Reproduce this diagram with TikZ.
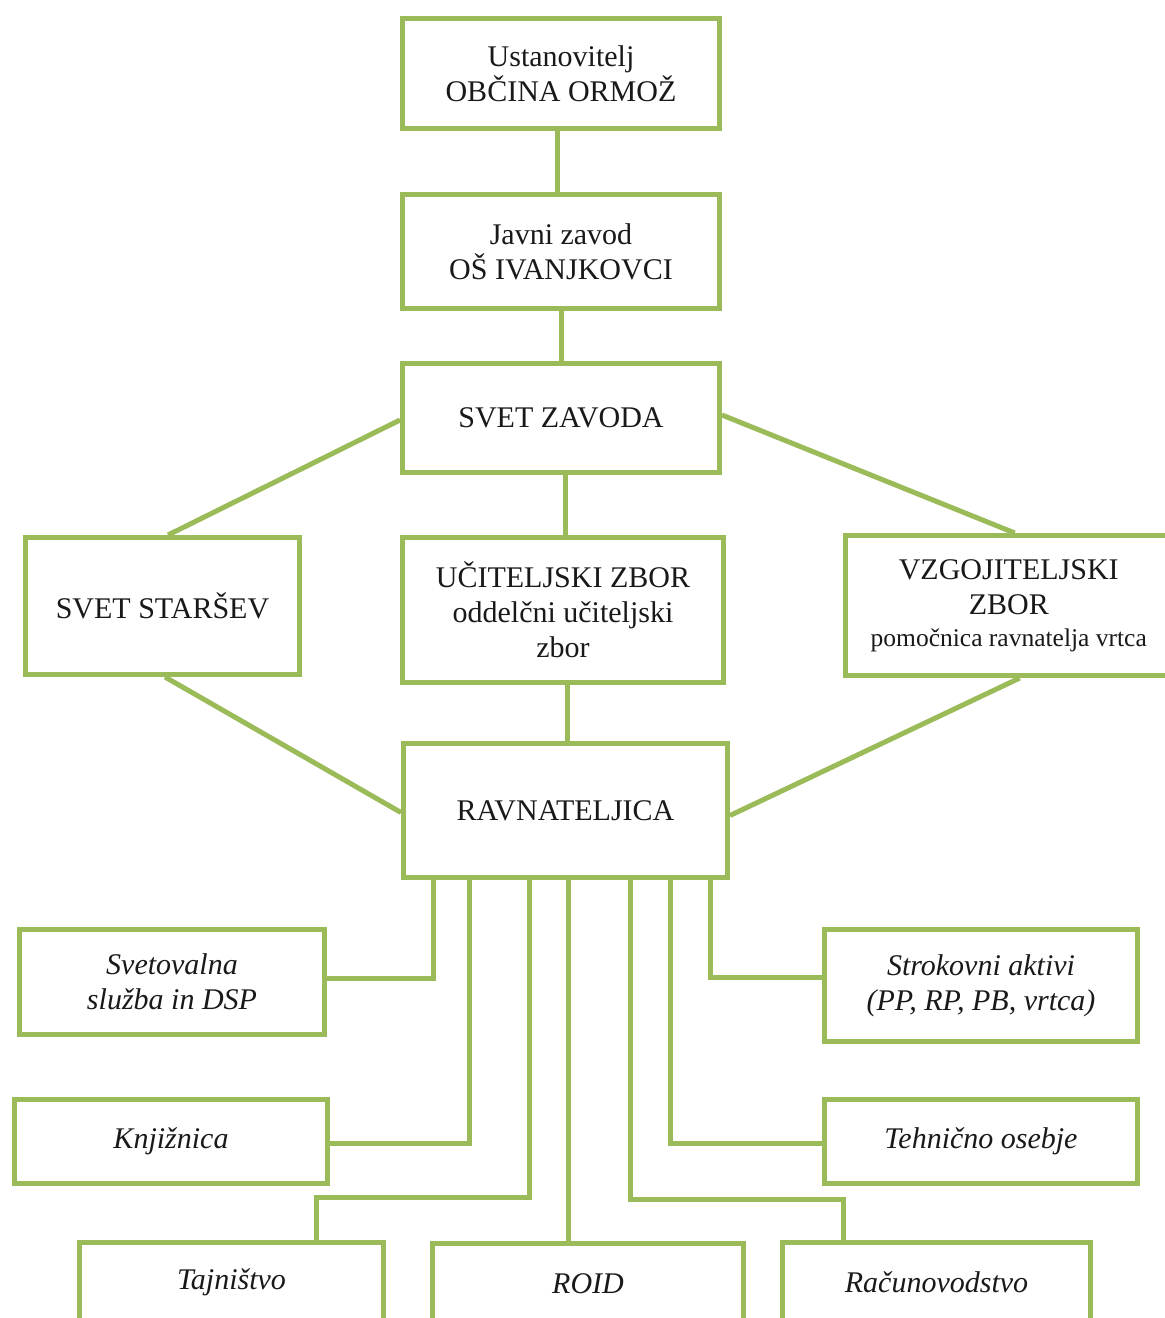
\documentclass[tikz,border=0pt]{standalone}
\usepackage{fontspec}
\setmainfont{Liberation Serif}
\definecolor{olive}{RGB}{155,187,89}
\begin{document}
\begin{tikzpicture}[x=1pt,y=-1pt,
  box/.style={draw=olive, line width=5pt, fill=white, inner sep=0pt, align=center,
    font=\fontsize{30}{35}\selectfont, text=black!90},
  ibox/.style={box, font=\fontsize{30}{35}\selectfont\itshape},
  conn/.style={draw=olive, line width=5pt}]
\clip (0,0) rectangle (1165,1318);
% top chain
\node[box, minimum width=317pt, minimum height=110pt] (ust) at (561,73.5) {Ustanovitelj\\OBČINA ORMOŽ};
\node[box, minimum width=317pt, minimum height=114pt] (jz) at (561,251.5) {Javni zavod\\OŠ IVANJKOVCI};
\node[box, minimum width=317pt, minimum height=109pt] (sz) at (561,418) {SVET ZAVODA};
% middle row
\node[box, minimum width=274pt, minimum height=137pt] (ss) at (162.5,606) {SVET STARŠEV};
\node[box, minimum width=321pt, minimum height=145pt] (uz) at (563,610) {UČITELJSKI ZBOR\\oddelčni učiteljski\\zbor};
\node[box, minimum width=326pt, minimum height=140pt] (vz) at (1008.75,605.5) {VZGOJITELJSKI\\ZBOR\\[-3pt]{\fontsize{25.5}{30}\selectfont pomočnica ravnatelja vrtca}};
% director
\node[box, minimum width=324pt, minimum height=134pt] (rav) at (565.5,810.5) {RAVNATELJICA};
% lower boxes
\node[ibox, minimum width=305pt, minimum height=105pt] (svs) at (172,982) {Svetovalna\\služba in DSP};
\node[ibox, minimum width=313pt, minimum height=84pt] (knj) at (171,1141.5) {Knjižnica};
\node[ibox, minimum width=313pt, minimum height=112pt] (sa) at (981,985.5) {Strokovni aktivi\\(PP, RP, PB, vrtca)};
\node[ibox, minimum width=313pt, minimum height=84pt] (teh) at (981,1141.5) {Tehnično osebje};
\node[ibox, minimum width=304pt, minimum height=80pt] (taj) at (231.5,1282.5) {Tajništvo};
\node[ibox, minimum width=311pt, minimum height=80pt] (roid) at (588,1283.5) {ROID};
\node[ibox, minimum width=308pt, minimum height=80pt] (rac) at (936.5,1282.5) {Računovodstvo};
% connectors
\draw[conn] ([xshift=-4pt]ust.south) -- ([xshift=-4pt]jz.north);
\draw[conn] (jz.south) -- (sz.north);
\draw[conn] ([xshift=4pt]sz.south) -- ([xshift=2pt]uz.north);
\draw[conn] ([xshift=4pt]uz.south) -- ([xshift=1.5pt]rav.north);
\draw[conn] ([yshift=-2pt]sz.west) -- ([xshift=5.5pt]ss.north);
\draw[conn] ([yshift=3pt]sz.east) -- ([xshift=6pt]vz.north);
\draw[conn] ([xshift=2.5pt]ss.south) -- ([yshift=-2pt]rav.west);
\draw[conn] ([xshift=11pt]vz.south) -- ([yshift=-5pt]rav.east);
\draw[conn] ([xshift=-132.5pt]rav.south) |- ([yshift=4pt]svs.east);
\draw[conn] ([xshift=-96.5pt]rav.south) |- ([yshift=-1.5pt]knj.east);
\draw[conn] ([xshift=-36.5pt]rav.south) -- ++(0,317.5) -| ([xshift=84.5pt]taj.north);
\draw[conn] ([xshift=2.5pt]rav.south) -- ([xshift=-20pt]roid.north);
\draw[conn] ([xshift=64.5pt]rav.south) -- ++(0,319.5) -| ([xshift=-93.5pt]rac.north);
\draw[conn] ([xshift=104.5pt]rav.south) |- ([yshift=-1.5pt]teh.west);
\draw[conn] ([xshift=144.5pt]rav.south) |- ([yshift=8.5pt]sa.west);
\end{tikzpicture}
\end{document}
